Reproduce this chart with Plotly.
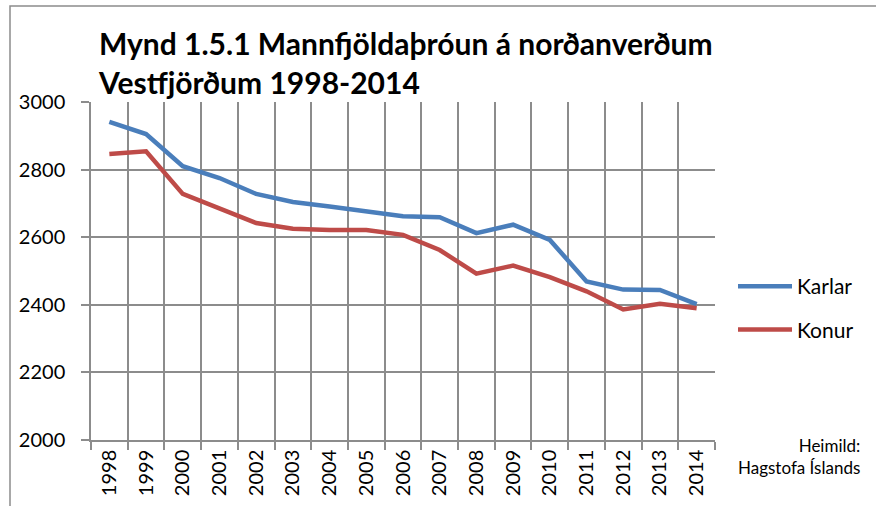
import plotly.graph_objects as go

years = [str(y) for y in range(1998, 2015)]
karlar = [2941, 2905, 2810, 2775, 2728, 2704, 2691, 2678, 2662, 2659, 2612, 2637, 2592, 2469, 2445, 2444, 2402]
konur = [2846, 2854, 2728, 2684, 2642, 2625, 2621, 2621, 2607, 2562, 2492, 2516, 2482, 2440, 2386, 2403, 2390]
y_ticks = [2000, 2200, 2400, 2600, 2800, 3000]

FONT = "Lato"
GRID = "#8c8c8c"

fig = go.Figure()
fig.add_trace(go.Scatter(x=years, y=karlar, name="Karlar", mode="lines",
                         line=dict(color="#4A7EBB", width=4.5), legendgroup="a"))
fig.add_trace(go.Scatter(x=years, y=konur, name="Konur", mode="lines",
                         line=dict(color="#BE4B48", width=4.5), legendgroup="b"))

L, R, T, B = 91, 715, 102, 440
W, H = 876, 506
pw, ph = R - L, B - T

def px_x(x):
    return (x - L) / pw

def px_y(y):
    return (B - y) / ph

fig.update_layout(
    width=W, height=H,
    margin=dict(l=L, r=W - R, t=T, b=H - B, pad=0, autoexpand=False),
    paper_bgcolor="white", plot_bgcolor="white",
    font=dict(family=FONT, color="black", size=20),
    title=dict(text="<b>Mynd 1.5.1 Mannfjöldaþróun á norðanverðum<br>Vestfjörðum 1998-2014</b>",
               x=99 / W, xanchor="left", xref="container",
               y=1 - 55 / H, yanchor="top", yref="container",
               font=dict(family=FONT, size=30, color="black")),
    showlegend=True,
    legend=dict(x=px_x(733), y=px_y(266), xanchor="left", yanchor="top",
                font=dict(family=FONT, size=21, color="black"),
                tracegroupgap=13, traceorder="grouped", bgcolor="rgba(0,0,0,0)",
                itemwidth=54),
    xaxis=dict(type="category", tickson="boundaries", showgrid=True, gridcolor=GRID, gridwidth=1.5,
               showline=True, linecolor=GRID, linewidth=1.5, ticks="outside", ticklen=8,
               tickcolor=GRID, tickwidth=1.5, tickangle=-90, range=[-0.5, 16.5],
               automargin=False,
               tickfont=dict(family=FONT, size=20, color="black")),
    yaxis=dict(range=[2000, 3000], tickvals=y_ticks, showgrid=True, gridcolor=GRID, gridwidth=1.5,
               showline=True, linecolor=GRID, linewidth=1.5, ticks="outside", ticklen=8,
               tickcolor=GRID, tickwidth=1.5, zeroline=False, automargin=False,
               ticklabelstandoff=12,
               tickfont=dict(family=FONT, size=20, color="black")),
)

fig.add_shape(type="rect", xref="paper", yref="paper",
              x0=px_x(10), y0=px_y(520), x1=px_x(890), y1=px_y(6),
              line=dict(color="#8c8c8c", width=1.5), fillcolor="rgba(0,0,0,0)", layer="below")

fig.add_annotation(text="Heimild:<br>Hagstofa Íslands", xref="paper", yref="paper",
                   x=px_x(862), y=px_y(433), xanchor="right", yanchor="top", align="right",
                   showarrow=False, font=dict(family=FONT, size=17, color="black"))

fig.write_html("out.html", config={"displayModeBar": False},
               post_script="document.body.style.margin='0';")
